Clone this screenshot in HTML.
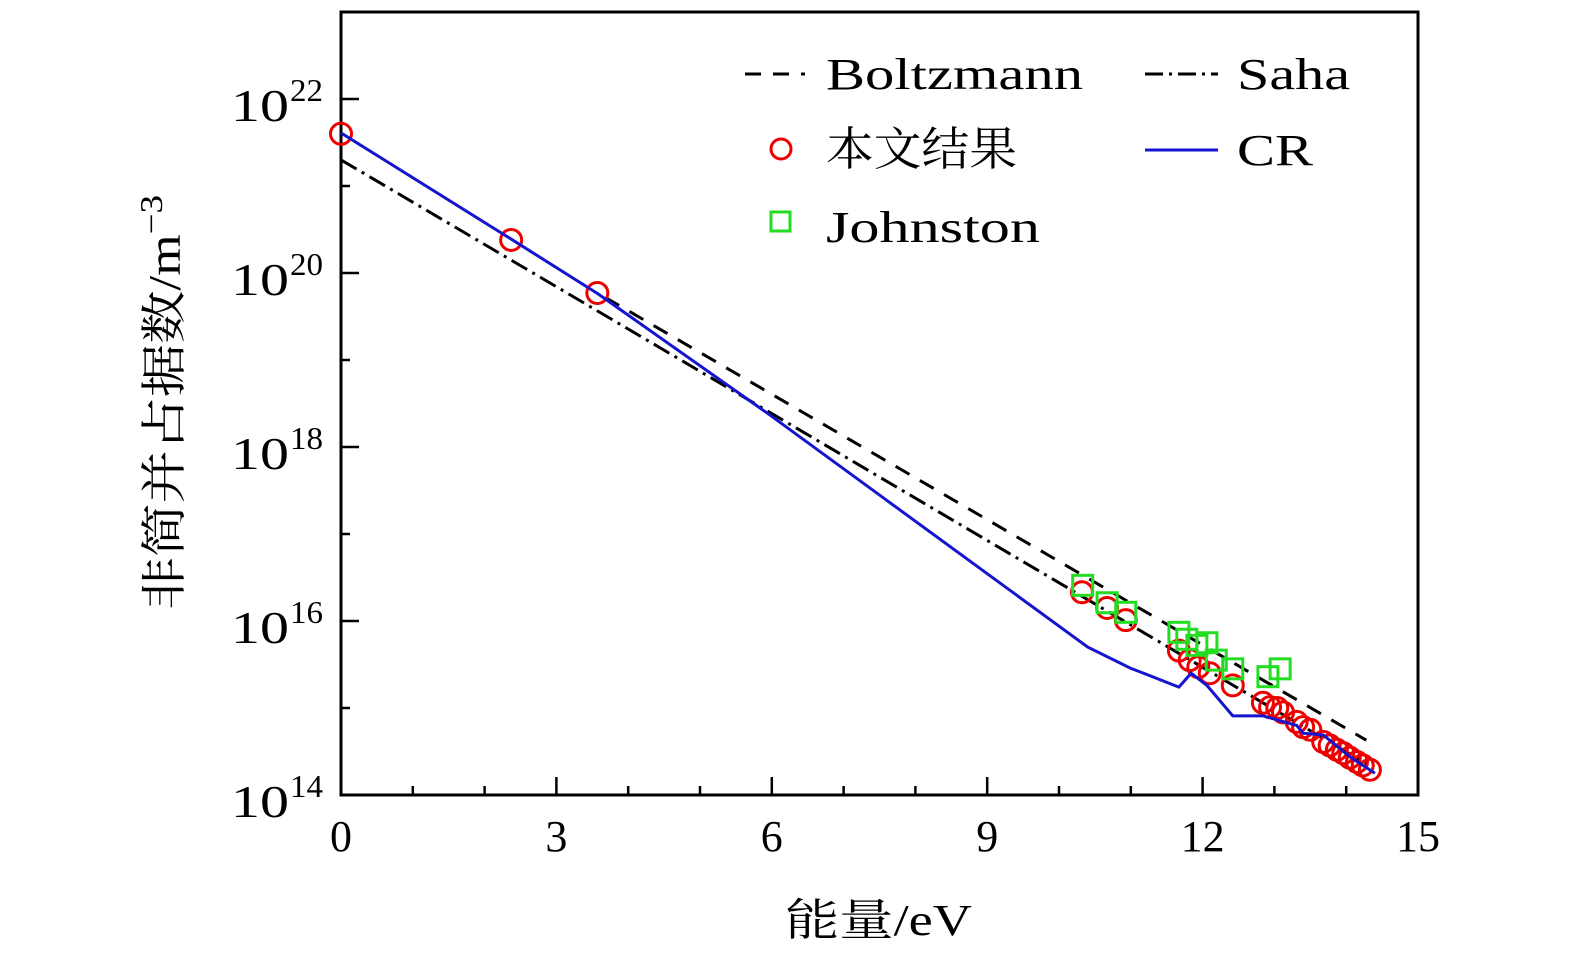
<!DOCTYPE html>
<html><head><meta charset="utf-8"><style>
html,body{margin:0;padding:0;background:#fff;}
svg text{font-family:"Liberation Serif","Noto Serif CJK SC",serif;fill:#000;}
</style></head><body>
<svg id="chart" width="1575" height="961" xmlns="http://www.w3.org/2000/svg">
<rect x="341" y="12" width="1077" height="783" fill="none" stroke="#000" stroke-width="3"/>
<g id="ticks"></g>
<g id="marks"></g>
<text x="785" y="935" font-size="44" textLength="187" lengthAdjust="spacingAndGlyphs">能量/eV</text>
<text transform="translate(180,610) rotate(-90)" font-size="46" textLength="415" lengthAdjust="spacingAndGlyphs">非简并占据数/m<tspan font-size="32" dy="-18">−3</tspan></text>
<g>
<line x1="745" y1="74" x2="805" y2="74" stroke="#000" stroke-width="3" stroke-dasharray="16,12"/>
<text x="826" y="89" font-size="44" textLength="257" lengthAdjust="spacingAndGlyphs">Boltzmann</text>
<line x1="1145" y1="74" x2="1218" y2="74" stroke="#000" stroke-width="3" stroke-dasharray="18,6,3,6"/>
<text x="1237" y="89" font-size="44" textLength="113" lengthAdjust="spacingAndGlyphs">Saha</text>
<circle cx="781" cy="149" r="10" fill="none" stroke="#e00" stroke-width="3"/>
<text x="826" y="165" font-size="46" textLength="191" lengthAdjust="spacingAndGlyphs">本文结果</text>
<line x1="1145" y1="150" x2="1218" y2="150" stroke="#1515d0" stroke-width="3"/>
<text x="1237" y="165" font-size="44" textLength="76" lengthAdjust="spacingAndGlyphs">CR</text>
<rect x="771" y="212" width="19" height="19" fill="none" stroke="#22dd22" stroke-width="3"/>
<text x="826" y="242" font-size="44" textLength="214" lengthAdjust="spacingAndGlyphs">Johnston</text>
</g>
</svg>
<script>
const xTicks=[0,3,6,9,12,15];
const yTickExps=[14,16,18,20,22];
const boltzE=[3.68,14.28];
const boltzLog=[19.72,14.63];
const sahaE=[0,14.3];
const sahaLog=[21.3,14.35];
const crE=[0,2.35,3.58,5.97,10.40,10.99,11.67,11.84,12.06,12.42,12.84,13.31,13.40,13.68,14.05,14.40];
const crLog=[21.61,20.4,19.76,18.37,15.70,15.46,15.24,15.40,15.26,14.91,14.91,14.80,14.71,14.69,14.44,14.25];
const resE=[0,2.37,3.57,10.32,10.67,10.93,11.67,11.82,11.94,12.10,12.42,12.84,12.94,13.04,13.12,13.31,13.40,13.50,13.68,13.77,13.87,13.96,14.05,14.15,14.23,14.33];
const resLog=[21.60,20.38,19.77,16.33,16.15,16.01,15.66,15.55,15.47,15.40,15.26,15.06,15.01,15.00,14.95,14.84,14.78,14.75,14.61,14.57,14.52,14.48,14.43,14.38,14.34,14.29];
const johE=[10.33,10.67,10.93,11.67,11.78,11.92,12.06,12.19,12.42,12.91,13.08];
const johLog=[16.41,16.21,16.10,15.87,15.79,15.72,15.75,15.55,15.45,15.36,15.45];
const NS='http://www.w3.org/2000/svg';
const X=e=>341+e*71.8;
const Y=l=>795-(l-14)*87;
function mk(t,a,p){const el=document.createElementNS(NS,t);for(const k in a)el.setAttribute(k,a[k]);p.appendChild(el);return el;}
const tg=document.getElementById('ticks'),mg=document.getElementById('marks');
for(let e=1;e<15;e++){const t=mk('line',{x1:X(e),x2:X(e),y1:795,y2:e%3?786:777,stroke:'#000','stroke-width':2.5},tg);

}
xTicks.forEach(v=>{const t=mk('text',{x:X(v),y:851,'font-size':44,'text-anchor':'middle'},tg);t.textContent=v;

});
for(let l=15;l<23;l++){const t=mk('line',{x1:341,x2:l%2?350:359,y1:Y(l),y2:Y(l),stroke:'#000','stroke-width':2.5},tg);

}
yTickExps.forEach(v=>{const t=mk('text',{x:231,y:Y(v)+22,'font-size':46,textLength:58,lengthAdjust:'spacingAndGlyphs'},tg);t.textContent='10';


const s=mk('text',{x:290,y:Y(v)+2,'font-size':32,textLength:33,lengthAdjust:'spacingAndGlyphs'},tg);s.textContent=v;

});
function line(E,L,attrs,name){const p=mk('polyline',Object.assign({points:E.map((e,i)=>X(e)+','+Y(L[i])).join(' '),fill:'none'},attrs),mg);

}
line(boltzE,boltzLog,{stroke:'#000','stroke-width':3,'stroke-dasharray':'16,12'},'boltzmann-line');
line(sahaE,sahaLog,{stroke:'#000','stroke-width':3,'stroke-dasharray':'18,6,3,6'},'saha-line');
resE.forEach((e,i)=>{const c=mk('circle',{cx:X(e),cy:Y(resLog[i]),r:10.5,fill:'none',stroke:'#e00','stroke-width':3},mg);

});
johE.forEach((e,i)=>{const r=mk('rect',{x:X(e)-10,y:Y(johLog[i])-10,width:20,height:20,fill:'none',stroke:'#22dd22','stroke-width':3},mg);

});
line(crE,crLog,{stroke:'#1515d0','stroke-width':3},'cr-line');
</script>
</body></html>
